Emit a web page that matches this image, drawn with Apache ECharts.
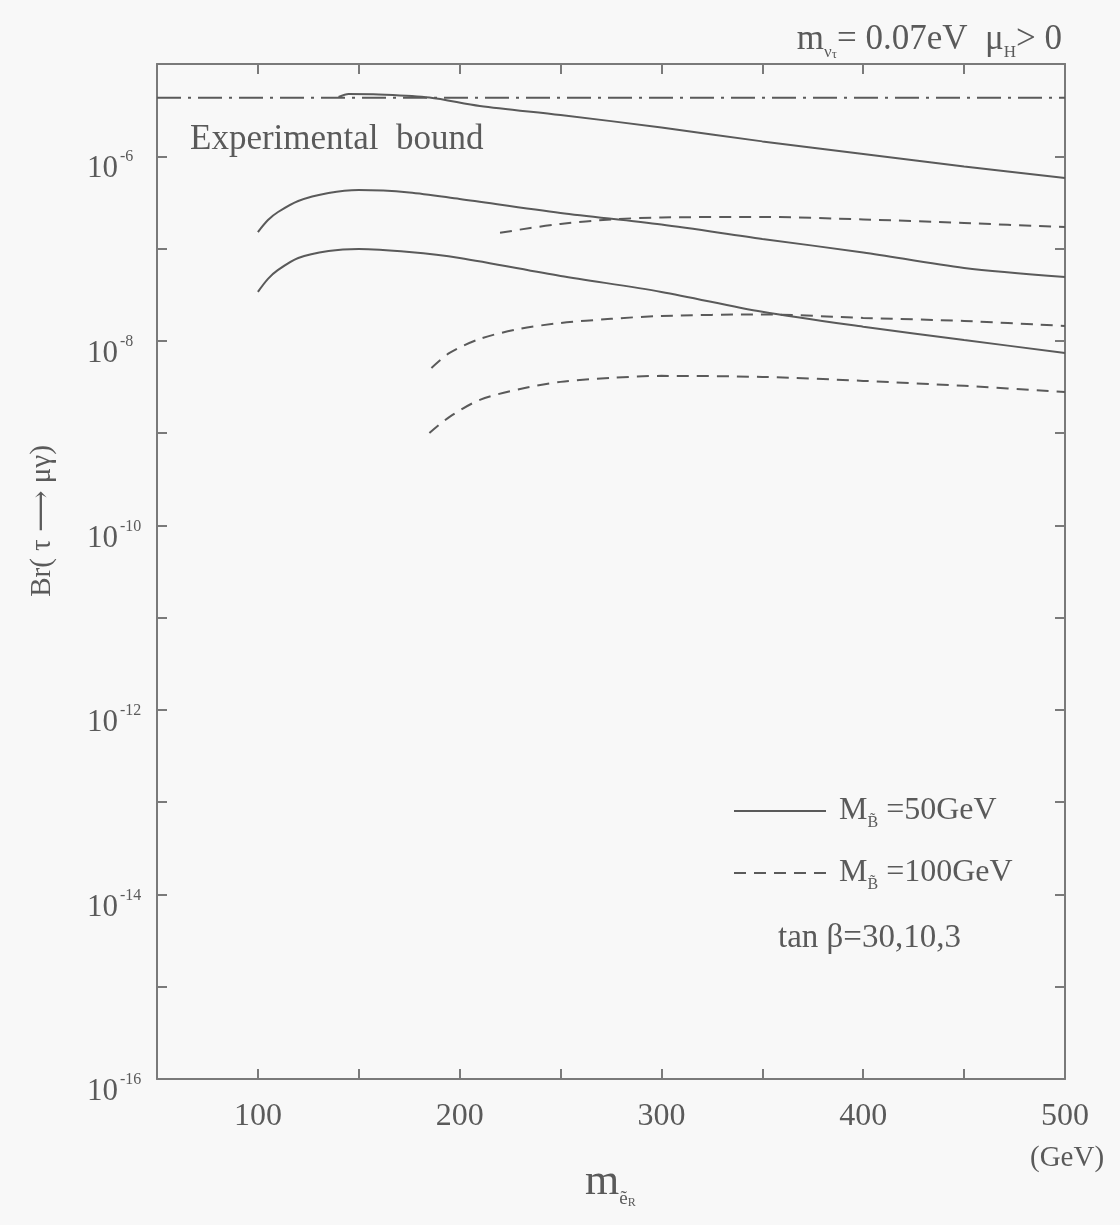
<!DOCTYPE html>
<html>
<head>
<meta charset="utf-8">
<script src="https://cdn.jsdelivr.net/npm/echarts@6.0.0/dist/echarts.min.js"></script>
<style>
  html, body { margin: 0; padding: 0; background: #f8f8f8; }
  #chart { width: 1120px; height: 1225px; }
</style>
</head>
<body>
<div id="chart"></div>
<script>
// slepton mass (GeV) and Br(tau -> mu gamma)
const xSolidA = [140, 145, 160, 185, 210, 250, 300, 350, 400, 450, 500]
const brSolidA = [4.39e-6, 4.73e-6, 4.68e-6, 4.34e-6, 3.51e-6, 2.80e-6, 2.05e-6, 1.45e-6, 1.06e-6, 7.76e-7, 5.82e-7]

const xSolidB = [100, 105, 110, 120, 135, 150, 175, 200, 250, 300, 350, 400, 450, 500]
const brSolidB = [1.51e-7, 2.04e-7, 2.49e-7, 3.28e-7, 4.00e-7, 4.31e-7, 4.06e-7, 3.44e-7, 2.43e-7, 1.82e-7, 1.27e-7, 9.08e-8, 6.17e-8, 4.92e-8]

const xSolidC = [100, 105, 110, 120, 135, 150, 175, 200, 250, 300, 350, 400, 450, 500]
const brSolidC = [3.39e-8, 4.69e-8, 5.87e-8, 7.91e-8, 9.41e-8, 9.9e-8, 9.18e-8, 7.91e-8, 5.05e-8, 3.39e-8, 2.06e-8, 1.42e-8, 1.02e-8, 7.4e-9]

const xDashA = [220, 235, 250, 275, 300, 350, 400, 450, 500]
const brDashA = [1.48e-7, 1.67e-7, 1.85e-7, 2.07e-7, 2.17e-7, 2.20e-7, 2.07e-7, 1.89e-7, 1.71e-7]

const xDashB = [186, 195, 210, 230, 250, 275, 300, 350, 400, 450, 500]
const brDashB = [5.08e-9, 7.39e-9, 1.05e-8, 1.35e-8, 1.56e-8, 1.73e-8, 1.86e-8, 1.93e-8, 1.77e-8, 1.64e-8, 1.45e-8]

const xDashC = [185, 195, 210, 230, 250, 275, 300, 350, 400, 450, 500]
const brDashC = [1.0e-9, 1.50e-9, 2.29e-9, 3.01e-9, 3.59e-9, 3.96e-9, 4.17e-9, 4.06e-9, 3.68e-9, 3.25e-9, 2.79e-9]

const xBound = [50, 500]
const brBound = [4.3e-6, 4.3e-6]

const xTickLabels = [100, 200, 300, 400, 500]
const yLabelExponents = [-6, -8, -10, -12, -14, -16]

const ink = '#5a5a5a'
const axisColor = '#7a7a7a'
const serif = '"Liberation Serif", "DejaVu Serif", serif'

const pairs = (xs, ys) => xs.map((x, i) => [x, ys[i]])

const curve = (name, xs, ys, dashed) => ({
  name: name,
  type: 'line',
  smooth: 0.3,
  showSymbol: false,
  symbol: 'none',
  silent: true,
  data: pairs(xs, ys),
  lineStyle: { color: ink, width: 2, type: dashed ? [12, 8] : 'solid' },
  itemStyle: { color: ink }
})

const baseAxis = {
  axisLine: { lineStyle: { color: axisColor, width: 2 } },
  axisTick: { inside: true, length: 10, lineStyle: { color: axisColor, width: 2 } },
  splitLine: { show: false }
}

const option = {
  animation: false,
  backgroundColor: '#f8f8f8',
  textStyle: { fontFamily: serif, color: ink },
  grid: { left: 157, right: 55, top: 64, bottom: 146 },
  legend: {
    orient: 'vertical',
    left: 728,
    top: 790,
    itemWidth: 92,
    itemHeight: 20,
    itemGap: 26,
    data: ['M50', 'M100'],
    itemStyle: { opacity: 0 },
    formatter: name => name === 'M50'
      ? '{t|M}{s|B\u0303}{t| =50GeV}'
      : '{t|M}{s|B\u0303}{t| =100GeV}',
    textStyle: {
      color: ink,
      fontFamily: serif,
      padding: [0, 0, 0, 8],
      rich: {
        t: { fontSize: 32, lineHeight: 40, fontFamily: serif, color: ink },
        s: { fontSize: 16, lineHeight: 15, verticalAlign: 'bottom', fontFamily: serif, color: ink }
      }
    }
  },
  xAxis: [
    Object.assign({}, baseAxis, {
      type: 'value',
      min: 50,
      max: 500,
      interval: 50,
      position: 'bottom',
      axisLabel: {
        margin: 22,
        fontSize: 32,
        fontFamily: serif,
        color: ink,
        formatter: v => xTickLabels.includes(v) ? String(v) : ''
      }
    }),
    Object.assign({}, baseAxis, {
      type: 'value',
      min: 50,
      max: 500,
      interval: 50,
      position: 'top',
      axisLabel: { show: false }
    })
  ],
  yAxis: [
    Object.assign({}, baseAxis, {
      type: 'log',
      logBase: 10,
      min: 1e-16,
      max: 1e-5,
      interval: 1,
      position: 'left',
      axisLabel: {
        align: 'left',
        margin: 70,
        padding: [26, 0, 0, 0],
        formatter: v => {
          const e = Math.round(Math.log10(v))
          return yLabelExponents.includes(e) ? '{b|10}{p|' + e + '}' : ''
        },
        rich: {
          b: { fontSize: 31, lineHeight: 40, fontFamily: serif, color: ink },
          p: { fontSize: 16, lineHeight: 16, verticalAlign: 'top', fontFamily: serif, color: ink, padding: [0, 0, 0, 2] }
        }
      }
    }),
    Object.assign({}, baseAxis, {
      type: 'log',
      logBase: 10,
      min: 1e-16,
      max: 1e-5,
      interval: 1,
      position: 'right',
      axisLabel: { show: false }
    })
  ],
  graphic: [
    {
      type: 'text',
      right: 58,
      top: 22,
      style: {
        text: '{t|m}{s|ν}{ss|τ}{t|= 0.07eV  μ}{s|H}{t|> 0}',
        rich: {
          t: { fontSize: 35, lineHeight: 44, fontFamily: serif, fill: ink },
          s: { fontSize: 17, lineHeight: 16, verticalAlign: 'bottom', fontFamily: serif, fill: ink },
          ss: { fontSize: 13, lineHeight: 10, verticalAlign: 'bottom', fontFamily: serif, fill: ink }
        }
      }
    },
    {
      type: 'text',
      left: 190,
      top: 122,
      style: { text: 'Experimental  bound', fontSize: 35, fontFamily: serif, fill: ink }
    },
    {
      type: 'text',
      left: 778,
      top: 922,
      style: { text: 'tan β=30,10,3', fontSize: 33, fontFamily: serif, fill: ink }
    },
    {
      type: 'text',
      left: 1030,
      top: 1144,
      style: { text: '(GeV)', fontSize: 29, fontFamily: serif, fill: ink }
    },
    {
      type: 'text',
      left: 585,
      top: 1160,
      style: {
        text: '{t|m}{s|ẽ}{ss|R}',
        rich: {
          t: { fontSize: 44, lineHeight: 54, fontFamily: serif, fill: ink },
          s: { fontSize: 19, lineHeight: 18, verticalAlign: 'bottom', fontFamily: serif, fill: ink },
          ss: { fontSize: 12, lineHeight: 8, verticalAlign: 'bottom', fontFamily: serif, fill: ink }
        }
      }
    },
    {
      type: 'text',
      x: 42,
      y: 521,
      rotation: Math.PI / 2,
      style: {
        text: 'Br( τ ⟶ μγ)',
        fontSize: 29,
        fontFamily: serif,
        fill: ink,
        align: 'center',
        verticalAlign: 'middle'
      }
    }
  ],
  series: [
    {
      name: 'bound',
      type: 'line',
      showSymbol: false,
      symbol: 'none',
      silent: true,
      data: pairs(xBound, brBound),
      lineStyle: { color: ink, width: 2, type: [24, 7, 3, 7] }
    },
    curve('M50', xSolidA, brSolidA, false),
    curve('M50', xSolidB, brSolidB, false),
    curve('M50', xSolidC, brSolidC, false),
    curve('M100', xDashA, brDashA, true),
    curve('M100', xDashB, brDashB, true),
    curve('M100', xDashC, brDashC, true)
  ]
}

const chart = echarts.init(document.getElementById('chart'))
chart.setOption(option)
</script>
</body>
</html>
